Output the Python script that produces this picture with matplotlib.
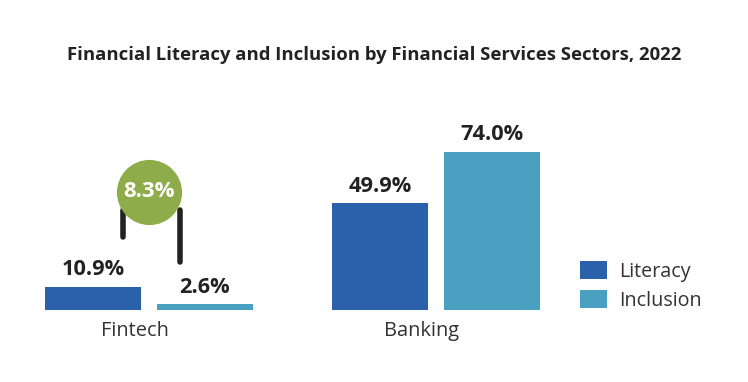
import matplotlib
matplotlib.use("Agg")
import matplotlib.pyplot as plt
import numpy as np
from matplotlib.patches import Patch

plt.rcParams['font.family'] = ['Open Sans', 'DejaVu Sans']

title = "Financial Literacy and Inclusion by Financial Services Sectors, 2022"
categories = ["Fintech", "Banking"]
series_names = ["Literacy", "Inclusion"]
literacy = [10.9, 49.9]
inclusion = [2.6, 74.0]
colors = ["#2b60ab", "#4aa0c0"]

fig = plt.figure(figsize=(7.48, 3.82), dpi=100)
ax = fig.add_axes([45/748, (382-310)/382, 495/748, 213.5/382])

x = np.arange(len(categories))
w = 0.334
off = 0.195
b1 = ax.bar(x - off, literacy, w, color=colors[0], label=series_names[0])
b2 = ax.bar(x + off, inclusion, w, color=colors[1], label=series_names[1])

for bars, vals in ((b1, literacy), (b2, inclusion)):
    for r, v in zip(bars, vals):
        ax.annotate(f"{v:.1f}%", (r.get_x() + r.get_width()/2, v),
                    xytext=(0, 5), textcoords="offset points",
                    ha="center", va="bottom", fontsize=15.7, fontweight="bold",
                    color="#222222")

ax.set_xlim(-0.362, 1.362)
ax.set_ylim(0, 100)
ax.set_xticks(x - 0.05)
ax.set_xticklabels(categories, fontsize=14.4, color="#333333")
ax.tick_params(axis="x", length=0, pad=8)
ax.set_yticks([])
for s in ax.spines.values():
    s.set_visible(False)

# gap indicator for Fintech
gap = literacy[0] - inclusion[0]
ax.plot([-0.090, -0.090], [34.2, 46.8], color="#222222", lw=4,
        solid_capstyle="round", zorder=3)
ax.plot([0.108, 0.108], [22.5, 46.8], color="#222222", lw=4,
        solid_capstyle="round", zorder=3)
ax.scatter([0], [55.3], s=2200, color="#8fac4a", zorder=4, clip_on=False,
           linewidths=0)
ax.text(0, 55.3, f"{gap:.1f}%", ha="center", va="center", fontsize=16,
        fontweight="bold", color="white", zorder=5)

fig.text(374/748, 1 - 55/382, title, ha="center", va="center",
         fontsize=13.3, fontweight="bold", color="#222222")

handles = [Patch(facecolor=c, label=n) for c, n in zip(colors, series_names)]
fig.legend(handles=handles, loc="center left",
           bbox_to_anchor=(562/748, 1 - 286/382), frameon=False,
           fontsize=14.2, handlelength=1.4, handleheight=1.0,
           labelspacing=0.45, handletextpad=0.6, labelcolor="#333333")

fig.savefig("out.png", dpi=100)
